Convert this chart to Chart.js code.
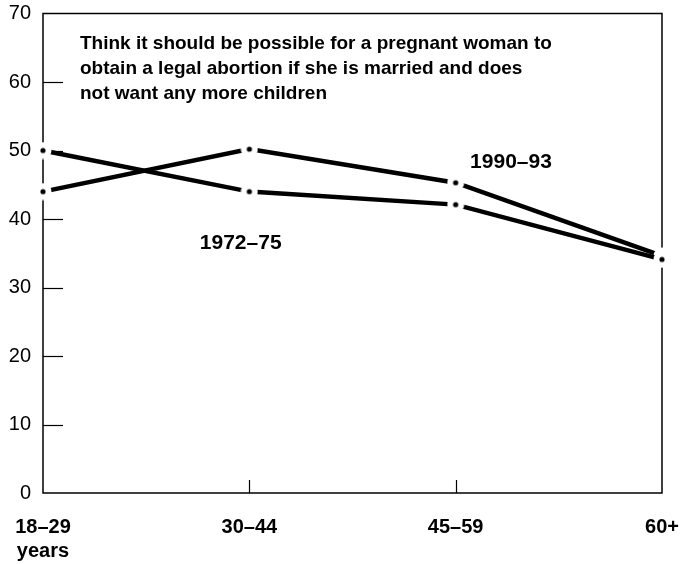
<!DOCTYPE html>
<html>
<head>
<meta charset="utf-8">
<script src="https://cdn.jsdelivr.net/npm/chart.js@4"></script>
<style>
  body { margin: 0; background: #fff; }
  #wrap { width: 680px; height: 564px; }
</style>
</head>
<body>
<div id="wrap"><canvas id="grafico"></canvas></div>
<script>
// dati
var gruppiEta = [['18–29', 'years'], '30–44', '45–59', '60+'];
var valori7275 = [50, 44, 42.1, 34.1];
var valori9093 = [44, 50.2, 45.3, 34.6];
var tickY = [0, 10, 20, 30, 40, 50, 60, 70];
var titolo = [
    'Think it should be possible for a pregnant woman to',
    'obtain a legal abortion if she is married and does',
    'not want any more children'
];
var etichette = [
    { testo: '1972–75', x: 0.76, y: 35.6 },
    { testo: '1990–93', x: 2.07, y: 47.4 }
];

// punto: pallino nero con alone bianco (fa il "buco" nella linea)
function creaPunto() {
    var c = document.createElement('canvas');
    c.width = 18; c.height = 18;
    var g = c.getContext('2d');
    g.fillStyle = '#fff';
    g.beginPath(); g.arc(9, 9, 8.5, 0, Math.PI * 2); g.fill();
    g.fillStyle = '#000';
    g.beginPath(); g.arc(9, 9, 2.6, 0, Math.PI * 2); g.fill();
    return c;
}
var punto = creaPunto();

var cornice = {
    id: 'cornice',
    beforeDatasetsDraw: function(chart) {
        var ctx = chart.ctx, a = chart.chartArea;
        var sy = chart.scales.y, sx = chart.scales.x;
        ctx.save();
        ctx.strokeStyle = '#000';
        ctx.lineWidth = 1.5;
        ctx.strokeRect(a.left, a.top, a.right - a.left, a.bottom - a.top);
        ctx.lineWidth = 1.2;
        // tacche asse y verso l'interno
        for (var i = 1; i < tickY.length - 1; i++) {
            var py = Math.round(sy.getPixelForValue(tickY[i])) + 0.5;
            ctx.beginPath(); ctx.moveTo(a.left, py); ctx.lineTo(a.left + 20, py); ctx.stroke();
        }
        // tacche asse x
        for (var j = 1; j < gruppiEta.length - 1; j++) {
            var px = Math.round(sx.getPixelForValue(j)) + 0.5;
            ctx.beginPath(); ctx.moveTo(px, a.bottom); ctx.lineTo(px, a.bottom - 13); ctx.stroke();
        }
        ctx.restore();
    },
    afterDraw: function(chart) {
        var ctx = chart.ctx, a = chart.chartArea;
        var sy = chart.scales.y, sx = chart.scales.x;
        ctx.save();
        ctx.fillStyle = '#000';
        ctx.font = 'bold 19px "Liberation Sans", Arial, sans-serif';
        ctx.textBaseline = 'alphabetic';
        ctx.textAlign = 'left';
        for (var i = 0; i < titolo.length; i++) {
            ctx.fillText(titolo[i], a.left + 37, a.top + 35 + i * 25);
        }
        ctx.font = 'bold 21px "Liberation Sans", Arial, sans-serif';
        etichette.forEach(function(e) {
            ctx.fillText(e.testo, sx.getPixelForValue(e.x), sy.getPixelForValue(e.y));
        });
        ctx.restore();
    }
};

var ctx = document.getElementById('grafico').getContext('2d');
var grafico = new Chart(ctx, {
    type: 'line',
    data: {
        labels: gruppiEta,
        datasets: [{
            label: '1972–75',
            data: valori7275,
            borderColor: '#000',
            borderWidth: 4.5,
            pointStyle: punto,
            pointRadius: 9,
            tension: 0
        }, {
            label: '1990–93',
            data: valori9093,
            borderColor: '#000',
            borderWidth: 4.5,
            pointStyle: punto,
            pointRadius: 9,
            tension: 0
        }]
    },
    plugins: [cornice],
    options: {
        responsive: true,
        maintainAspectRatio: false,
        animation: false,
        layout: { padding: { top: 13, right: 18, left: 0, bottom: 0 } },
        plugins: {
            legend: { display: false },
            tooltip: { enabled: false }
        },
        scales: {
            x: {
                offset: false,
                grid: { display: false, drawTicks: false },
                border: { display: false },
                ticks: {
                    color: '#000',
                    padding: 22,
                    maxRotation: 0,
                    autoSkip: false,
                    font: { family: '"Liberation Sans", Arial, sans-serif', size: 20, weight: 'bold', lineHeight: 1.2 }
                },
                afterFit: function(s) {
                    s.height = 71;
                    s.paddingLeft = 0;
                    s.paddingRight = 0;
                }
            },
            y: {
                min: 0,
                max: 70,
                afterBuildTicks: function(s) {
                    s.ticks = tickY.map(function(v) { return { value: v }; });
                },
                grid: { display: false, drawTicks: false },
                border: { display: false },
                ticks: {
                    color: '#000',
                    padding: 12,
                    font: { family: '"Liberation Sans", Arial, sans-serif', size: 20 }
                },
                afterFit: function(s) {
                    s.width = 43;
                    s.paddingTop = 0;
                    s.paddingBottom = 0;
                }
            }
        }
    }
});
</script>
</body>
</html>
